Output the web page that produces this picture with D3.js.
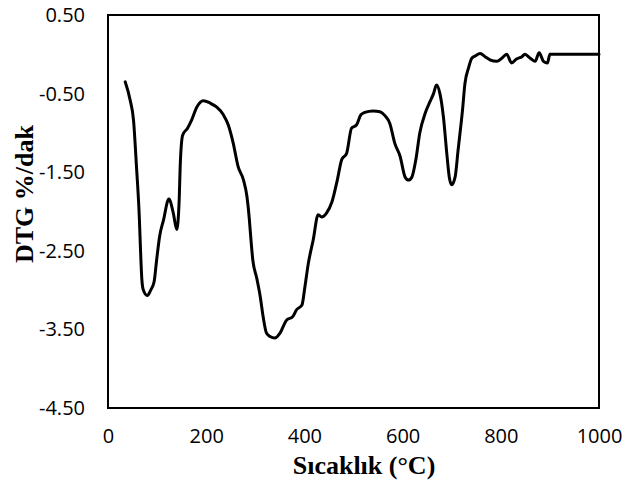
<!DOCTYPE html>
<html>
<head>
<meta charset="utf-8">
<script src="https://cdn.jsdelivr.net/npm/d3@7"></script>
<style>
  html, body { margin: 0; padding: 0; background: #fff; }
  svg { display: block; }
</style>
</head>
<body>
<svg id="chart" width="632" height="484"></svg>
<script>
// DTG curve: temperature (°C) and mass-loss rate (%/dak)
const temperature = [35, 45, 52, 58, 64, 65, 69, 72, 80, 87, 94, 99, 105, 113, 124, 133, 140, 145, 147, 152, 162, 170, 181, 194, 208, 221, 235, 245, 255, 265, 276, 283, 288, 289, 295, 303, 310, 316, 323, 330, 340, 350, 364, 376, 384, 395, 401, 408, 418, 428, 435, 445, 456, 467, 476, 486, 496, 506, 515, 523, 540, 554, 564, 574, 584, 595, 605, 612, 619, 627, 635, 646, 656, 663, 669, 676, 683, 690, 695, 700, 707, 713, 722, 727, 734, 741, 748, 758, 768, 778, 792, 802, 812, 822, 832, 843, 849, 860, 870, 878, 887, 895, 900, 1000];
const dtg = [-0.35, -0.58, -0.84, -1.43, -2.11, -2.28, -2.87, -3.00, -3.07, -3.00, -2.89, -2.62, -2.32, -2.11, -1.84, -2.02, -2.23, -1.85, -1.43, -1.03, -0.94, -0.84, -0.67, -0.59, -0.62, -0.67, -0.77, -0.90, -1.13, -1.43, -1.60, -1.81, -2.11, -2.19, -2.62, -2.85, -3.08, -3.34, -3.55, -3.59, -3.61, -3.55, -3.38, -3.34, -3.25, -3.19, -2.96, -2.66, -2.36, -2.04, -2.07, -2.02, -1.88, -1.60, -1.34, -1.26, -0.94, -0.90, -0.77, -0.74, -0.72, -0.73, -0.78, -0.88, -1.13, -1.30, -1.56, -1.60, -1.56, -1.34, -1.00, -0.75, -0.60, -0.50, -0.39, -0.50, -0.79, -1.26, -1.56, -1.66, -1.56, -1.22, -0.71, -0.37, -0.18, -0.05, -0.02, 0.01, -0.03, -0.07, -0.09, -0.05, 0.00, -0.11, -0.06, -0.03, 0.00, -0.05, -0.09, 0.02, -0.09, -0.11, 0.00, 0.00];

const xTicks = [0, 200, 400, 600, 800, 1000];
const yTicks = [0.5, -0.5, -1.5, -2.5, -3.5, -4.5];

const margin = { left: 108, right: 33, top: 15, bottom: 76 };
const W = 632, H = 484;
const svg = d3.select("#chart");

const x = d3.scaleLinear().domain([0, 1000]).range([margin.left, W - margin.right]);
const y = d3.scaleLinear().domain([-4.5, 0.5]).range([H - margin.bottom, margin.top]);

const tickFont = "Open Sans, Noto Sans, sans-serif";
const titleFont = "Liberation Serif, Times New Roman, serif";

// x axis labels (no tick marks)
const xAxis = svg.append("g")
  .attr("transform", `translate(0,${H - margin.bottom})`)
  .call(d3.axisBottom(x).tickValues(xTicks).tickSize(0).tickPadding(21).tickFormat(d => String(d)));
xAxis.select(".domain").remove();
xAxis.selectAll("text").attr("font-family", tickFont).attr("font-size", 20).attr("fill", "#000");

// y axis labels, plain hyphen for negatives
const yAxis = svg.append("g")
  .attr("transform", `translate(${margin.left},0)`)
  .call(d3.axisLeft(y).tickValues(yTicks).tickSize(0).tickPadding(23).tickFormat(d => d.toFixed(2)));
yAxis.select(".domain").remove();
yAxis.selectAll("text").attr("font-family", tickFont).attr("font-size", 20).attr("fill", "#000");

// plot frame
svg.append("rect")
  .attr("x", x(0)).attr("y", y(0.5))
  .attr("width", x(1000) - x(0)).attr("height", y(-4.5) - y(0.5))
  .attr("fill", "none").attr("stroke", "#000").attr("stroke-width", 2);

// DTG line
const pts = temperature.map((t, i) => [t, dtg[i]]);
svg.append("path")
  .datum(pts)
  .attr("fill", "none")
  .attr("stroke", "#000")
  .attr("stroke-width", 3)
  .attr("stroke-linejoin", "round")
  .attr("stroke-linecap", "round")
  .attr("d", d3.line().x(d => x(d[0])).y(d => y(d[1])).curve(d3.curveMonotoneX));

// axis titles
svg.append("text")
  .attr("x", 364).attr("y", 474)
  .attr("text-anchor", "middle")
  .attr("font-family", titleFont)
  .attr("font-weight", "bold").attr("font-size", 26)
  .text("Sıcaklık (°C)");

svg.append("text")
  .attr("transform", "translate(33,194) rotate(-90)")
  .attr("text-anchor", "middle")
  .attr("font-family", titleFont)
  .attr("font-weight", "bold").attr("font-size", 26)
  .text("DTG %/dak");
</script>
</body>
</html>
